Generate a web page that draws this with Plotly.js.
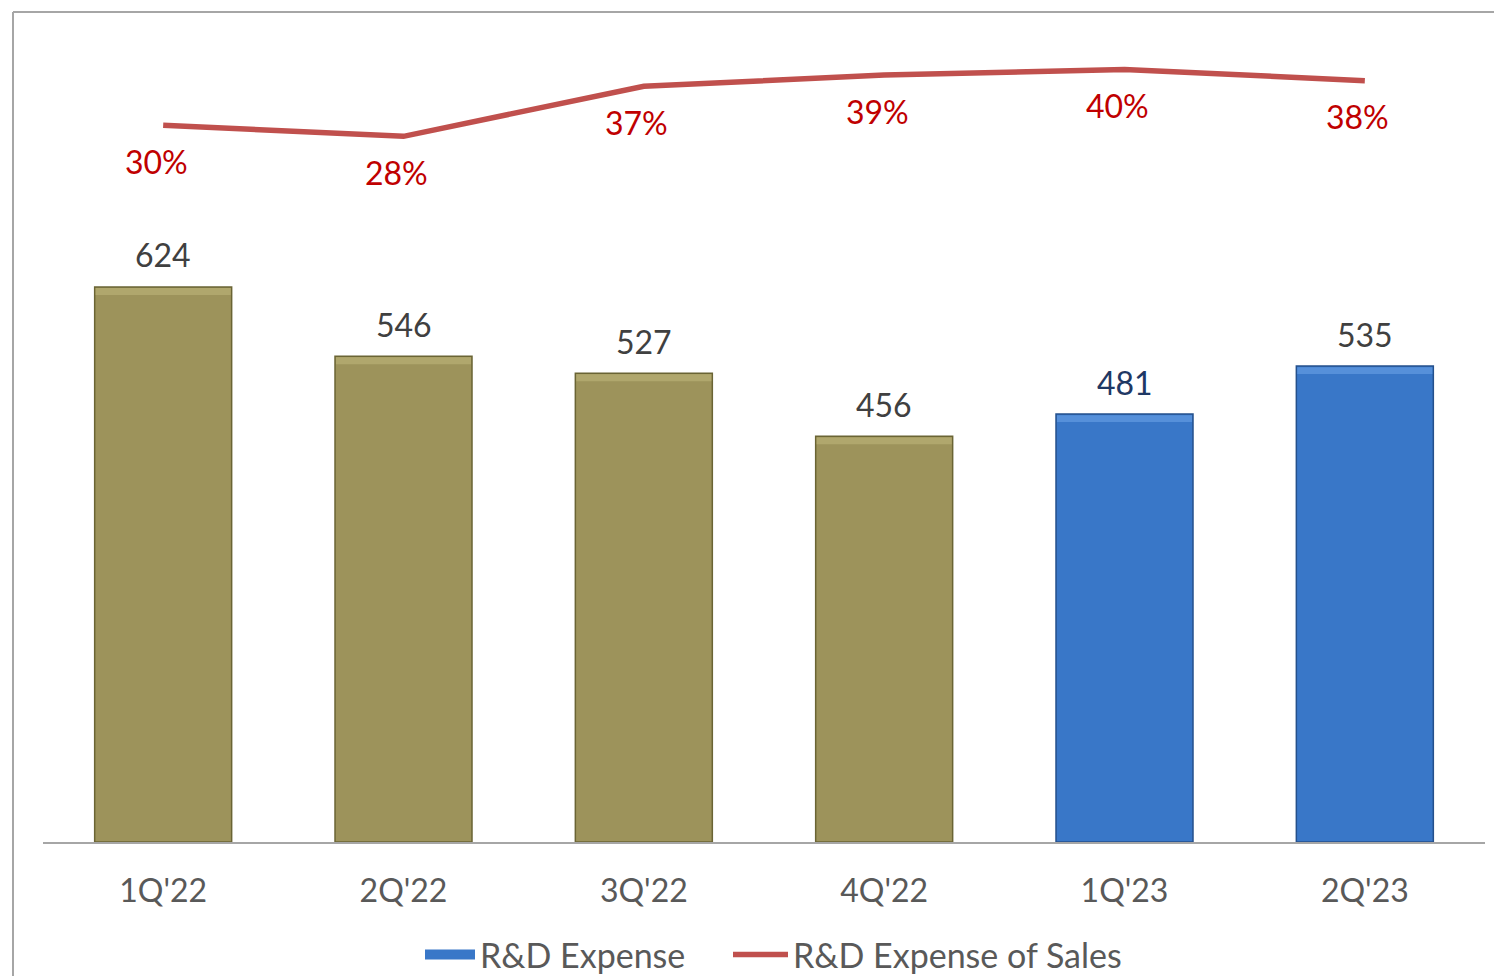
<!DOCTYPE html>
<html>
<head>
<meta charset="utf-8">
<script src="https://cdn.plot.ly/plotly-3.0.1.min.js"></script>
<style>
  html, body { margin: 0; padding: 0; background: #ffffff; }
  #chart { width: 1494px; height: 976px; }
</style>
</head>
<body>
<div id="chart"></div>
<script>
// ---- data ----
const quarters = ["1Q'22", "2Q'22", "3Q'22", "4Q'22", "1Q'23", "2Q'23"];
const rdExpense = [624, 546, 527, 456, 481, 535];
const rdPctOfSales = [0.30, 0.28, 0.37, 0.39, 0.40, 0.38];
const fiscalYear = [2022, 2022, 2022, 2022, 2023, 2023];

// ---- styles ----
const FONT = "Lato, 'Open Sans', sans-serif";
const olive = "#9D935B", oliveLine = "#6A6434", oliveTop = "#B0A76D";
const blue = "#3977C8", blueLine = "#24508C", blueTop = "#5690DA";
const red = "#C0504D";
const BEVEL = 9;     // value units (~8px)
const EDGE = 1.2;    // value units kept for top outline

const idx22 = quarters.map((q, i) => i).filter(i => fiscalYear[i] === 2022);
const idx23 = quarters.map((q, i) => i).filter(i => fiscalYear[i] === 2023);

function barTrace(idx, color, lineColor, name) {
  return {
    type: 'bar', name: name, showlegend: false,
    x: idx.map(i => quarters[i]), y: idx.map(i => rdExpense[i]),
    width: 0.57,
    marker: { color: color, line: { color: lineColor, width: 1.5 } },
    hoverinfo: 'x+y'
  };
}
function bevelTrace(idx, color) {
  return {
    type: 'bar', showlegend: false, hoverinfo: 'skip',
    x: idx.map(i => quarters[i]),
    base: idx.map(i => rdExpense[i] - BEVEL),
    y: idx.map(() => BEVEL - EDGE),
    width: 0.562,
    marker: { color: color, line: { width: 0 } }
  };
}

const bars2022 = barTrace(idx22, olive, oliveLine, 'R&D Expense 2022');
const bars2023 = barTrace(idx23, blue, blueLine, 'R&D Expense');
const bevel2022 = bevelTrace(idx22, oliveTop);
const bevel2023 = bevelTrace(idx23, blueTop);

// legend swatch for the bar series (legend only, no data)
const barLegend = {
  type: 'scatter', mode: 'lines', name: 'R&D Expense', legend: 'legend',
  x: [null], y: [null],
  line: { color: blue, width: 18 }, hoverinfo: 'skip'
};
const pctLine = {
  type: 'scatter', mode: 'lines', name: 'R&D Expense of Sales', legend: 'legend2',
  x: quarters, y: rdPctOfSales, yaxis: 'y2',
  line: { color: red, width: 5.5 },
  hoverinfo: 'x+y'
};

const annotations = [];
quarters.forEach((q, i) => {
  annotations.push({
    x: q, y: rdExpense[i], xref: 'x', yref: 'y',
    text: String(rdExpense[i]), showarrow: false,
    yanchor: 'middle', yshift: 32,
    font: { family: FONT, size: 32, color: i === 4 ? '#1F3864' : '#404040' }
  });
  annotations.push({
    x: q, y: rdPctOfSales[i], xref: 'x', yref: 'y2',
    text: Math.round(rdPctOfSales[i] * 100) + '%', showarrow: false,
    yanchor: 'middle', yshift: -36, xshift: -7,
    font: { family: FONT, size: 32, color: '#C00000' }
  });
});

// frame lines (left and top of the outer border)
const PL = 43, PR = 1485, PT = 20, PB = 842;
const px = v => (v - PL) / (PR - PL);
const py = v => (PB - v) / (PB - PT);
const shapes = [
  { type: 'line', xref: 'paper', yref: 'paper', x0: px(13), x1: px(13), y0: py(12), y1: py(990), line: { color: '#A6A6A6', width: 2 } },
  { type: 'line', xref: 'paper', yref: 'paper', x0: px(13), x1: px(1500), y0: py(12), y1: py(12), line: { color: '#A6A6A6', width: 2 } }
];

const legendBase = {
  orientation: 'h', xref: 'container', xanchor: 'left',
  y: 1 - 955 / 976, yref: 'container', yanchor: 'middle',
  font: { family: FONT, size: 34, color: '#595959' },
  itemwidth: 55, bgcolor: 'rgba(0,0,0,0)'
};

const layout = {
  width: 1494, height: 976,
  margin: { l: PL, r: 1494 - PR, t: PT, b: 976 - PB, pad: 0, autoexpand: false },
  paper_bgcolor: '#ffffff', plot_bgcolor: '#ffffff',
  barmode: 'overlay',
  font: { family: FONT, size: 32, color: '#595959' },
  xaxis: {
    type: 'category', categoryorder: 'array', categoryarray: quarters,
    showline: true, linecolor: '#A6A6A6', linewidth: 2,
    ticks: '', showgrid: false, zeroline: false,
    ticklabelstandoff: 20, automargin: false,
    tickfont: { family: FONT, size: 32, color: '#595959' }
  },
  yaxis: { range: [0, 924], visible: false, showgrid: false, zeroline: false, fixedrange: true },
  yaxis2: { range: [-0.988, 0.489], overlaying: 'y', side: 'right', visible: false, showgrid: false, zeroline: false },
  showlegend: true,
  legend: Object.assign({}, legendBase, { x: 420 / 1494, itemwidth: 50 }),
  legend2: Object.assign({}, legendBase, { x: 728 / 1494 }),
  annotations: annotations,
  shapes: shapes
};

Plotly.newPlot('chart', [bars2022, bars2023, bevel2022, bevel2023, barLegend, pctLine], layout, { displayModeBar: false, staticPlot: true });
</script>
</body>
</html>
